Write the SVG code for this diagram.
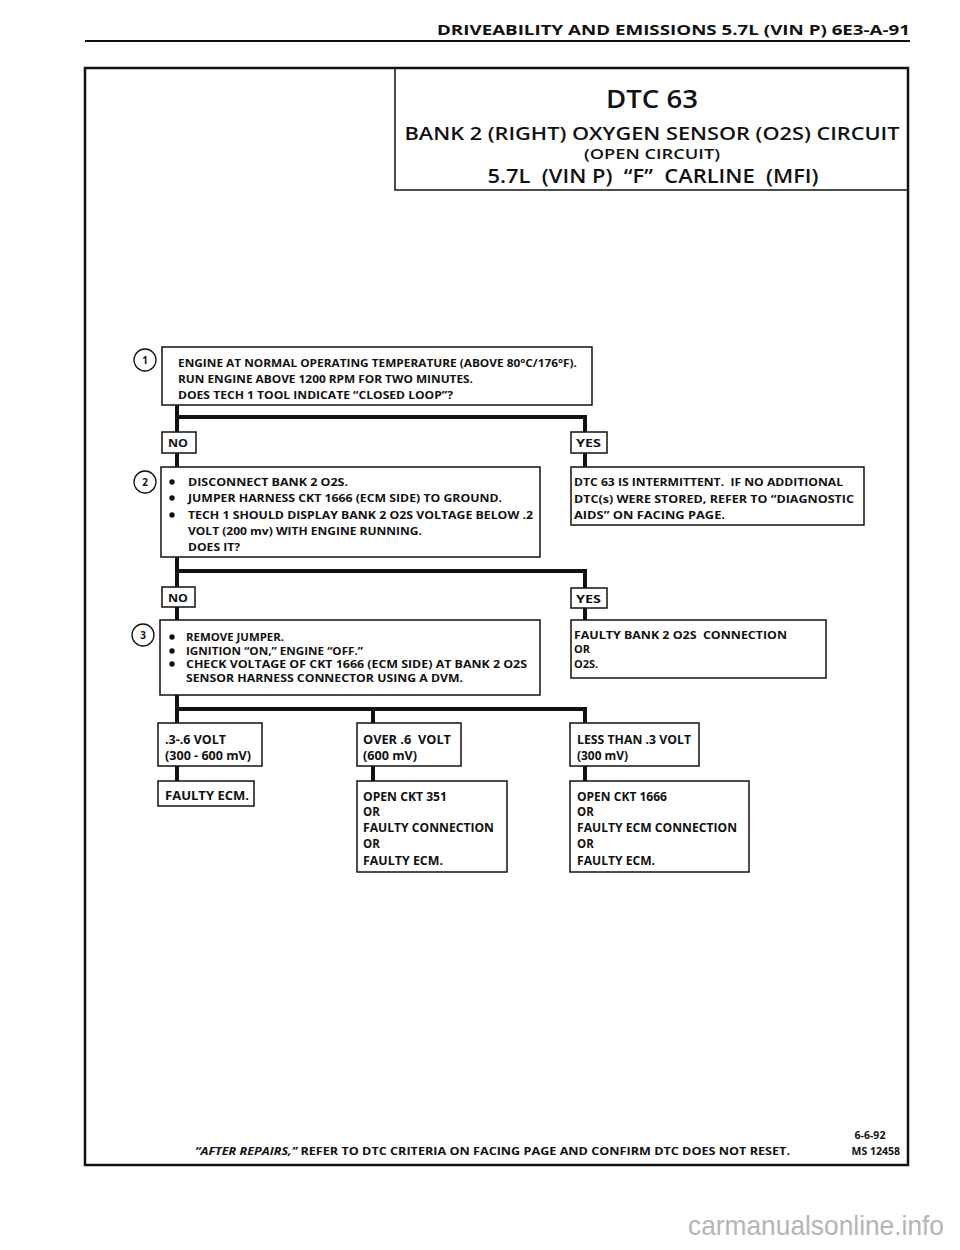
<svg xmlns="http://www.w3.org/2000/svg" width="960" height="1250" viewBox="0 0 960 1250">
<style>
text{font-family:"Open Sans","Liberation Sans",sans-serif;font-weight:700;fill:#111}
.t{font-size:11px}
.v{font-size:11.5px}
.box{fill:#fff;stroke:#111;stroke-width:1.5}
.wire{fill:none;stroke:#111;stroke-width:4;stroke-linecap:butt}
.num{fill:#fff;stroke:#111;stroke-width:1.3}
.nt{font-size:10px;text-anchor:middle}
.ttl{font-weight:600;text-anchor:middle}
.bul{fill:#111}
</style>
<rect width="960" height="1250" fill="#fff"/>
<g id="header">
<text x="910" y="35" font-size="14.5" text-anchor="end" textLength="473" lengthAdjust="spacingAndGlyphs">DRIVEABILITY AND EMISSIONS  5.7L  (VIN P) 6E3-A-91</text>
<line x1="85" y1="41" x2="910" y2="41" stroke="#111" stroke-width="2"/>
</g>
<rect id="frame" x="85" y="68" width="823" height="1097" fill="none" stroke="#111" stroke-width="2.5"/>
<g id="title">
<rect x="395" y="68" width="513" height="122" fill="none" stroke="#111" stroke-width="1.5"/>
<text class="ttl" x="652" y="108" font-size="26" textLength="92" lengthAdjust="spacingAndGlyphs">DTC 63</text>
<text class="ttl" x="652" y="140" font-size="18.5" textLength="495" lengthAdjust="spacingAndGlyphs">BANK 2 (RIGHT) OXYGEN SENSOR (O2S) CIRCUIT</text>
<text class="ttl" x="652" y="159" font-size="13.5" textLength="136" lengthAdjust="spacingAndGlyphs">(OPEN CIRCUIT)</text>
<text class="ttl" x="653" y="183" font-size="19" textLength="331" lengthAdjust="spacingAndGlyphs" xml:space="preserve">5.7L  (VIN P)  “F”  CARLINE  (MFI)</text>
</g>
<g id="connectors">
<path class="wire" d="M177 405V432M177 417H585V432M177 453V467M585 453V467"/>
<path class="wire" d="M177 557V587M177 571H585V588M177 607V620M585 608V620"/>
<path class="wire" d="M177 695V723M177 709H585V723M373 709V723M177 766V781M373 766V781M585 766V781"/>
</g>
<g id="step1">
<circle class="num" cx="145" cy="360" r="11"/>
<text class="nt" x="145" y="364">1</text>
<rect class="box" x="162" y="347" width="430" height="58"/>
<text class="t" x="178" y="367" textLength="399" lengthAdjust="spacingAndGlyphs">ENGINE AT NORMAL OPERATING TEMPERATURE (ABOVE 80°C/176°F).</text>
<text class="t" x="178" y="383" textLength="295" lengthAdjust="spacingAndGlyphs">RUN ENGINE ABOVE 1200 RPM FOR TWO MINUTES.</text>
<text class="t" x="178" y="399" textLength="275" lengthAdjust="spacingAndGlyphs">DOES TECH 1 TOOL INDICATE “CLOSED LOOP”?</text>
</g>
<g id="no1">
<rect class="box" x="162" y="432" width="34" height="21"/>
<text class="t" x="168" y="447" textLength="20" lengthAdjust="spacingAndGlyphs">NO</text>
</g>
<g id="yes1">
<rect class="box" x="571" y="432" width="36" height="21"/>
<text class="t" x="576" y="447" textLength="25" lengthAdjust="spacingAndGlyphs">YES</text>
</g>
<g id="step2">
<circle class="num" cx="145" cy="482" r="11"/>
<text class="nt" x="145" y="486">2</text>
<rect class="box" x="161" y="467" width="379" height="90"/>
<circle class="bul" cx="172" cy="482" r="2.7"/>
<circle class="bul" cx="172" cy="498" r="2.7"/>
<circle class="bul" cx="172" cy="515" r="2.7"/>
<text class="t" x="188" y="486" textLength="160" lengthAdjust="spacingAndGlyphs">DISCONNECT BANK 2 O2S.</text>
<text class="t" x="188" y="502" textLength="314" lengthAdjust="spacingAndGlyphs">JUMPER HARNESS CKT 1666 (ECM SIDE) TO GROUND.</text>
<text class="t" x="188" y="519" textLength="345" lengthAdjust="spacingAndGlyphs">TECH 1 SHOULD DISPLAY BANK 2 O2S VOLTAGE BELOW .2</text>
<text class="t" x="188" y="535" textLength="234" lengthAdjust="spacingAndGlyphs">VOLT (200 mv) WITH ENGINE RUNNING.</text>
<text class="t" x="188" y="551" textLength="52" lengthAdjust="spacingAndGlyphs">DOES IT?</text>
</g>
<g id="intermittent">
<rect class="box" x="571" y="467" width="293" height="58"/>
<text class="t" x="574" y="486" textLength="269" lengthAdjust="spacingAndGlyphs" xml:space="preserve">DTC 63 IS INTERMITTENT.  IF NO ADDITIONAL</text>
<text class="t" x="574" y="503" textLength="280" lengthAdjust="spacingAndGlyphs">DTC(s) WERE STORED, REFER TO “DIAGNOSTIC</text>
<text class="t" x="574" y="519" textLength="151" lengthAdjust="spacingAndGlyphs">AIDS” ON FACING PAGE.</text>
</g>
<g id="no2">
<rect class="box" x="162" y="587" width="33" height="20"/>
<text class="t" x="168" y="602" textLength="20" lengthAdjust="spacingAndGlyphs">NO</text>
</g>
<g id="yes2">
<rect class="box" x="571" y="588" width="36" height="20"/>
<text class="t" x="576" y="603" textLength="25" lengthAdjust="spacingAndGlyphs">YES</text>
</g>
<g id="step3">
<circle class="num" cx="143" cy="635" r="11"/>
<text class="nt" x="143" y="639">3</text>
<rect class="box" x="160" y="620" width="380" height="75"/>
<circle class="bul" cx="172" cy="637" r="2.7"/>
<circle class="bul" cx="172" cy="651" r="2.7"/>
<circle class="bul" cx="172" cy="664" r="2.7"/>
<text class="t" x="186" y="641" textLength="98" lengthAdjust="spacingAndGlyphs">REMOVE JUMPER.</text>
<text class="t" x="186" y="655" textLength="177" lengthAdjust="spacingAndGlyphs">IGNITION “ON,” ENGINE “OFF.”</text>
<text class="t" x="186" y="668" textLength="341" lengthAdjust="spacingAndGlyphs">CHECK VOLTAGE OF CKT 1666 (ECM SIDE) AT BANK 2 O2S</text>
<text class="t" x="186" y="682" textLength="277" lengthAdjust="spacingAndGlyphs">SENSOR HARNESS CONNECTOR USING A DVM.</text>
</g>
<g id="faultyconn">
<rect class="box" x="571" y="620" width="255" height="58"/>
<text class="t" x="574" y="639" textLength="213" lengthAdjust="spacingAndGlyphs" xml:space="preserve">FAULTY BANK 2 O2S  CONNECTION</text>
<text class="t" x="574" y="653">OR</text>
<text class="t" x="574" y="668">O2S.</text>
</g>
<g id="v36">
<rect class="box" x="158" y="723" width="104" height="43"/>
<text class="v" x="165" y="744" textLength="61" lengthAdjust="spacingAndGlyphs">.3-.6 VOLT</text>
<text class="v" x="165" y="760" textLength="86" lengthAdjust="spacingAndGlyphs">(300 - 600 mV)</text>
</g>
<g id="vover">
<rect class="box" x="357" y="723" width="104" height="43"/>
<text class="v" x="363" y="744" textLength="88" lengthAdjust="spacingAndGlyphs" xml:space="preserve">OVER .6  VOLT</text>
<text class="v" x="363" y="760" textLength="54" lengthAdjust="spacingAndGlyphs">(600 mV)</text>
</g>
<g id="vless">
<rect class="box" x="570" y="723" width="129" height="43"/>
<text class="v" x="577" y="744" textLength="114" lengthAdjust="spacingAndGlyphs">LESS THAN .3 VOLT</text>
<text class="v" x="577" y="760" textLength="51" lengthAdjust="spacingAndGlyphs">(300 mV)</text>
</g>
<g id="ecm">
<rect class="box" x="158" y="781" width="96" height="25"/>
<text class="v" x="165" y="800" textLength="84" lengthAdjust="spacingAndGlyphs">FAULTY ECM.</text>
</g>
<g id="ckt351">
<rect class="box" x="357" y="781" width="150" height="91"/>
<text class="v" x="363" y="801" textLength="84" lengthAdjust="spacingAndGlyphs">OPEN CKT 351</text>
<text class="v" x="363" y="816">OR</text>
<text class="v" x="363" y="832" textLength="131" lengthAdjust="spacingAndGlyphs">FAULTY CONNECTION</text>
<text class="v" x="363" y="848">OR</text>
<text class="v" x="363" y="865" textLength="80" lengthAdjust="spacingAndGlyphs">FAULTY ECM.</text>
</g>
<g id="ckt1666">
<rect class="box" x="570" y="781" width="179" height="91"/>
<text class="v" x="577" y="801" textLength="90" lengthAdjust="spacingAndGlyphs">OPEN CKT 1666</text>
<text class="v" x="577" y="816">OR</text>
<text class="v" x="577" y="832" textLength="160" lengthAdjust="spacingAndGlyphs">FAULTY ECM CONNECTION</text>
<text class="v" x="577" y="848">OR</text>
<text class="v" x="577" y="865" textLength="78" lengthAdjust="spacingAndGlyphs">FAULTY ECM.</text>
</g>
<g id="footer">
<text x="195" y="1155" font-size="10.5" textLength="595" lengthAdjust="spacingAndGlyphs"><tspan font-style="italic">“AFTER REPAIRS,”</tspan> REFER TO DTC CRITERIA ON FACING PAGE AND CONFIRM DTC DOES NOT RESET.</text>
<text x="870" y="1139" font-size="10.5" text-anchor="middle">6-6-92</text>
<text x="900" y="1155" font-size="10.5" text-anchor="end">MS 12458</text>
</g>
<text id="watermark" x="944" y="1235" font-size="28" style="fill:#b5b5b5;font-family:'Liberation Sans',sans-serif;font-weight:400" text-anchor="end" textLength="256" lengthAdjust="spacingAndGlyphs">carmanualsonline.info</text>
</svg>
